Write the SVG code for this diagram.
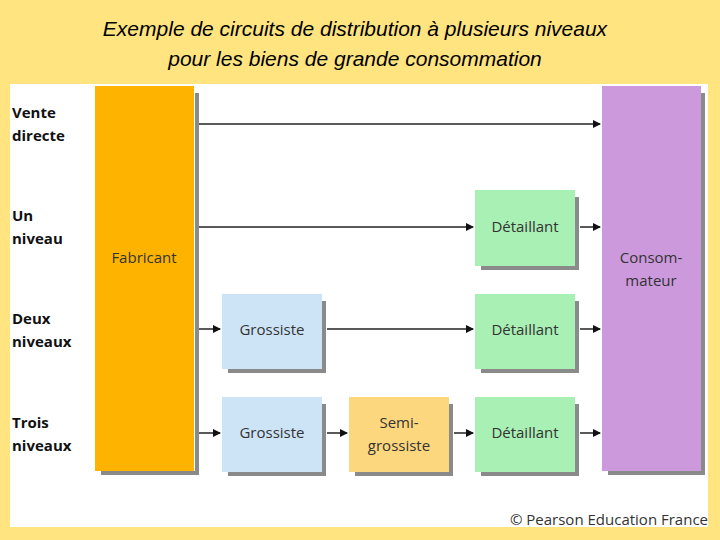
<svg xmlns="http://www.w3.org/2000/svg" width="720" height="540" viewBox="0 0 720 540">
<defs>
<marker id="ah" markerWidth="8" markerHeight="8" refX="7" refY="4" orient="auto" markerUnits="userSpaceOnUse"><path d="M0,0 L8,4 L0,8 Z" fill="#111"/></marker>
</defs>
<style>
.t{font-family:"Liberation Sans",Arial,sans-serif;font-style:italic;font-size:21px;fill:#000}
.lab{font-family:"Open Sans","Liberation Sans",sans-serif;font-weight:bold;font-size:15px;fill:#111}
.n{font-family:"Open Sans","Liberation Sans",sans-serif;font-size:15px;fill:#333;text-anchor:middle}
.sh{fill:#8a8a8a}
.c{stroke:#222;stroke-width:1.5;fill:none;marker-end:url(#ah)}
</style>
<rect width="720" height="540" fill="#FFE480"/>
<text class="t" x="355" y="36" text-anchor="middle">Exemple de circuits de distribution à plusieurs niveaux</text>
<text class="t" x="355" y="66" text-anchor="middle">pour les biens de grande consommation</text>
<rect x="10" y="84" width="698" height="443" fill="#fff"/>
<g class="lab">
<text x="12" y="118">Vente</text><text x="12" y="141">directe</text>
<text x="12" y="221">Un</text><text x="12" y="244">niveau</text>
<text x="12" y="324">Deux</text><text x="12" y="347">niveaux</text>
<text x="12" y="428">Trois</text><text x="12" y="451">niveaux</text>
</g>
<g id="fabricant"><rect class="sh" x="195" y="93" width="4" height="382"/><rect class="sh" x="101" y="471" width="98" height="4"/><rect x="95" y="86" width="99" height="385" fill="#FDB300"/><text class="n" x="144" y="263">Fabricant</text></g>
<g id="consommateur"><rect class="sh" x="701" y="93" width="4" height="382"/><rect class="sh" x="608" y="471" width="97" height="4"/><rect x="602" y="86" width="99" height="385" fill="#CC99DD"/><text class="n" x="651" y="263">Consom-</text><text class="n" x="651" y="286">mateur</text></g>
<g id="det1"><rect class="sh" x="575" y="197" width="4" height="73"/><rect class="sh" x="481" y="266" width="98" height="4"/><rect x="475" y="190" width="100" height="76" fill="#A8F0B4"/><text class="n" x="525" y="232">Détaillant</text></g>
<g id="gro2"><rect class="sh" x="322" y="301" width="4" height="72"/><rect class="sh" x="228" y="369" width="98" height="4"/><rect x="222" y="294" width="100" height="75" fill="#CCE4F6"/><text class="n" x="272" y="335">Grossiste</text></g>
<g id="det2"><rect class="sh" x="575" y="301" width="4" height="72"/><rect class="sh" x="481" y="369" width="98" height="4"/><rect x="475" y="294" width="100" height="75" fill="#A8F0B4"/><text class="n" x="525" y="335">Détaillant</text></g>
<g id="gro3"><rect class="sh" x="322" y="404" width="4" height="72"/><rect class="sh" x="228" y="472" width="98" height="4"/><rect x="222" y="397" width="100" height="75" fill="#CCE4F6"/><text class="n" x="272" y="438">Grossiste</text></g>
<g id="semi"><rect class="sh" x="449" y="404" width="4" height="72"/><rect class="sh" x="355" y="472" width="98" height="4"/><rect x="349" y="397" width="100" height="75" fill="#FCD77E"/><text class="n" x="399" y="428">Semi-</text><text class="n" x="399" y="451">grossiste</text></g>
<g id="det3"><rect class="sh" x="575" y="404" width="4" height="72"/><rect class="sh" x="481" y="472" width="98" height="4"/><rect x="475" y="397" width="100" height="75" fill="#A8F0B4"/><text class="n" x="525" y="438">Détaillant</text></g>
<g id="connectors">
<path class="c" d="M199 124 H600"/>
<path class="c" d="M199 227 H473"/><path class="c" d="M580 227 H600"/>
<path class="c" d="M199 329 H220"/><path class="c" d="M327 329 H473"/><path class="c" d="M580 329 H600"/>
<path class="c" d="M199 433 H220"/><path class="c" d="M327 433 H347"/><path class="c" d="M454 433 H473"/><path class="c" d="M580 433 H600"/>
</g>
<text x="708" y="525" text-anchor="end" font-family="'Open Sans','Liberation Sans',sans-serif" font-size="15" fill="#333">© Pearson Education France</text>
</svg>
